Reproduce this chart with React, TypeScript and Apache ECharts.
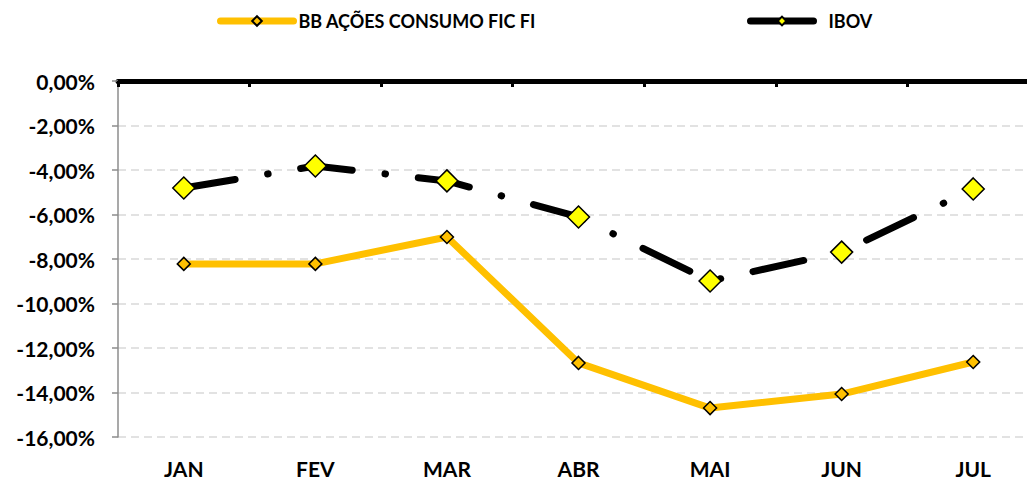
import React, { useEffect, useRef } from "react";
import * as echarts from "echarts";

const months = ["JAN", "FEV", "MAR", "ABR", "MAI", "JUN", "JUL"];
const bbAcoes = [-8.22, -8.22, -7.01, -12.67, -14.7, -14.07, -12.63];
const ibov = [-4.81, -3.82, -4.49, -6.11, -8.99, -7.69, -4.85];
const seriesNames = ["BB AÇÕES CONSUMO FIC FI", "IBOV"];

const FONT = "Lato, 'Open Sans', sans-serif";

export default function App() {
  const ref = useRef<HTMLDivElement>(null);
  useEffect(() => {
    document.body.style.margin = "0";
    document.body.style.overflow = "hidden";
    document.documentElement.style.overflow = "hidden";
    const chart = echarts.init(ref.current!, null, { renderer: "svg" });
    chart.setOption({
      animation: false,
      backgroundColor: "#ffffff",
      legend: [
        {
          left: 217,
          top: 12,
          padding: 0,
          itemWidth: 73,
          itemHeight: 12,
          itemGap: 0,
          lineStyle: { width: 7, cap: "round" },
          textStyle: { fontFamily: FONT, fontWeight: "bold", fontSize: 18, color: "#000" },
          data: [{ name: seriesNames[0], lineStyle: { width: 7, cap: "round" } }],
        },
        {
          left: 747,
          top: 12,
          padding: 0,
          itemWidth: 63,
          itemHeight: 11,
          itemGap: 0,
          lineStyle: { width: 7, cap: "round" },
          textStyle: { fontFamily: FONT, fontWeight: "bold", fontSize: 18, color: "#000", padding: [0, 0, 0, 10] },
          data: [{ name: seriesNames[1], lineStyle: { type: "solid", width: 7, cap: "round" } }],
        },
      ],
      grid: { left: 118, right: 11, top: 81, bottom: 44, containLabel: false },
      xAxis: [
        {
          type: "category",
          data: months,
          position: "bottom",
          axisLine: { show: false },
          axisTick: { show: false },
          axisLabel: { fontFamily: FONT, fontWeight: "bold", fontSize: 21, color: "#000", margin: 21 },
        },
        {
          type: "category",
          data: months,
          position: "top",
          axisLine: { show: true, onZero: false, lineStyle: { color: "#000", width: 5 } },
          axisTick: { show: true, inside: true, length: 6, lineStyle: { color: "#000", width: 3 } },
          axisLabel: { show: false },
        },
      ],
      yAxis: {
        type: "value",
        min: -16,
        max: 0,
        interval: 2,
        axisLine: { show: true, lineStyle: { color: "#8c8c8c", width: 1.5 } },
        axisTick: { show: true, length: 6, lineStyle: { color: "#8c8c8c", width: 1.5 } },
        axisLabel: {
          fontFamily: FONT,
          fontWeight: "bold",
          fontSize: 21,
          color: "#000",
          margin: 23,
          formatter: (v: number) => v.toFixed(2).replace(".", ",") + "%",
        },
        splitLine: { show: true, lineStyle: { color: "#d9d9d9", width: 1.5, type: [8, 5] } },
      },
      series: [
        {
          name: seriesNames[0],
          type: "line",
          data: bbAcoes,
          symbol: "diamond",
          symbolSize: 13,
          lineStyle: { color: "#FFC000", width: 7 },
          itemStyle: { color: "#FFC000", borderColor: "#000", borderWidth: 1.5 },
          z: 2,
        },
        {
          name: seriesNames[1],
          type: "line",
          data: ibov,
          symbol: "diamond",
          symbolSize: 22,
          lineStyle: { color: "#000", width: 7, type: [52, 33, 0.5, 33], cap: "round" },
          itemStyle: { color: "#FFFF00", borderColor: "#000", borderWidth: 1.5 },
          z: 3,
        },
      ],
    });
    return () => chart.dispose();
  }, []);
  return (
    <div
      ref={ref}
      style={{ position: "absolute", left: 0, top: 0, width: 1050, height: 481 }}
    />
  );
}
